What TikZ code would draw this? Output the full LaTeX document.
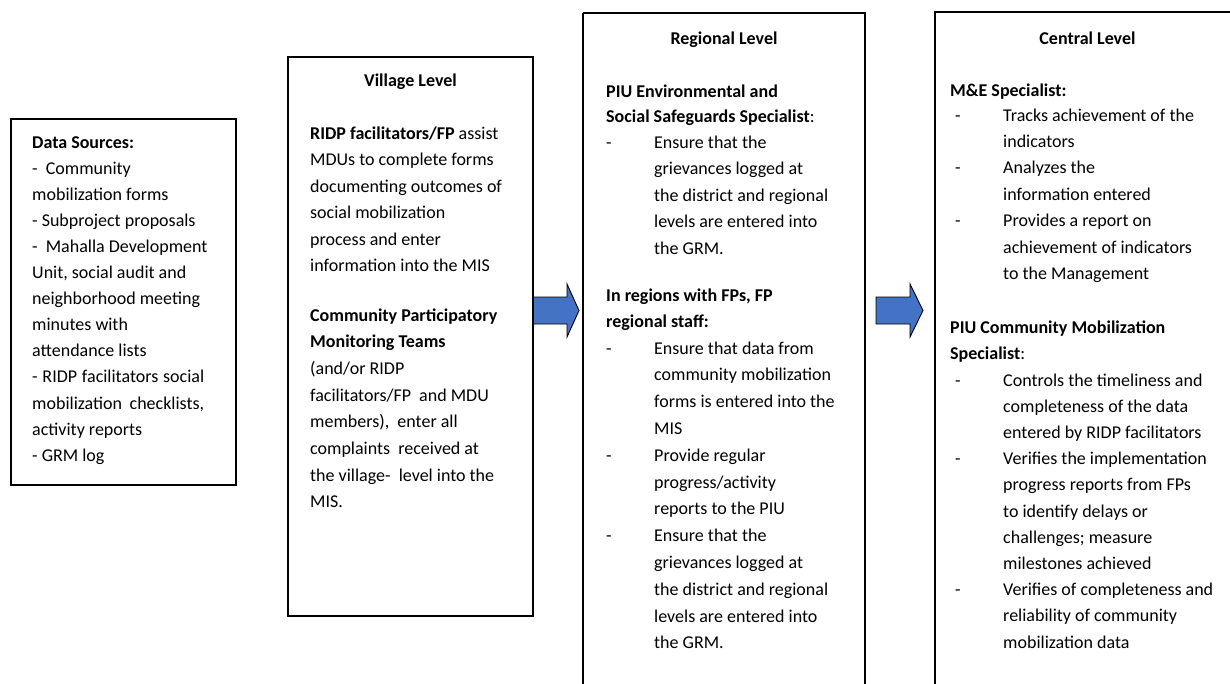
\documentclass[tikz,border=0pt]{standalone}
\usepackage{fontspec}
\setmainfont{Carlito}
\definecolor{arrowblue}{HTML}{4472C4}
% one text node per line: name prefix, x, centre y of first line, line pitch, lines
\newcommand\textlines[5]{%
  \foreach \lin [count=\i from 0] in {#5} {%
    \node[txt] (#1-\i) at (#2,{-(#3+\i*#4+6)}) {\lin};
  }%
}
\begin{document}
\begin{tikzpicture}[x=1pt,y=1pt,
  txt/.style={anchor=base west, inner sep=0pt, font=\fontsize{18}{22}\selectfont},
  ttl/.style={anchor=base, inner sep=0pt, font=\fontsize{18}{22}\selectfont\bfseries},
  frame/.style={draw=black, line width=1.4pt},
  blockarrow/.style={draw=black, line width=0.9pt, fill=arrowblue, line join=miter}]
\useasboundingbox (0,0) rectangle (1230,-683);
\clip (0,0) rectangle (1230,-683);

% block arrows between the levels
\draw[blockarrow] (533,-297) -- (567,-297) -- (567,-284) -- (579,-310.5)
  -- (567,-337) -- (567,-324) -- (533,-324) -- cycle;
\draw[blockarrow] (876,-297) -- (910,-297) -- (910,-284) -- (923,-310.5)
  -- (910,-337) -- (910,-324) -- (876,-324) -- cycle;

% frames
\draw[frame] (11,-119) rectangle (236,-485);
\draw[frame] (288,-57) rectangle (533,-616);
\draw[frame] (583,-13) -- (583,-700) (583,-13) -- (865,-13) -- (865,-700);
\draw[frame] (935,-700) -- (935,-12) -- (1240,-12) -- (1240,-700);

% data sources
\textlines{src}{32}{142}{26.1}{{\textbf{Data Sources:}},{-\ \ Community},{mobilization forms},
  {- Subproject proposals},{-\ \ Mahalla Development},{Unit, social audit and},
  {neighborhood meeting},{minutes with},{attendance lists},
  {\makebox[172pt][s]{- RIDP facilitators social}},{\makebox[172pt][s]{mobilization checklists,}},
  {activity reports},{- GRM log}}

% village level
\node[ttl] (vtitle) at (410.5,-86) {Village Level};
\textlines{vA}{310}{133}{26.5}{{\textbf{RIDP facilitators/FP} assist},{MDUs to complete forms},
  {documenting outcomes of},{social mobilization},{process and enter},{information into the MIS}}
\textlines{vB}{310}{315}{26.7}{{\textbf{Community Participatory}},{\textbf{Monitoring Teams}},
  {(and/or RIDP},{facilitators/FP\ \ and MDU},{members),\ \ enter all},
  {complaints\ \ received at},{the village-\ \ level into the},{MIS.}}

% regional level
\node[ttl] (rtitle) at (724,-44) {Regional Level};
\textlines{rH1}{606}{91}{25.5}{{\textbf{PIU Environmental and}},{\textbf{Social Safeguards Specialist}:}}
\textlines{rD1}{606}{142}{26.5}{{-}}
\textlines{rA}{654}{142}{26.5}{{Ensure that the},{grievances logged at},
  {the district and regional},{levels are entered into},{the GRM.}}
\textlines{rH2}{606}{295}{26}{{\textbf{In regions with FPs, FP}},{\textbf{regional staff:}}}
\textlines{rD2}{606}{348}{26.8}{{-},{},{},{},{-},{},{},{-}}
\textlines{rB}{654}{348}{26.8}{{Ensure that data from},{community mobilization},
  {forms is entered into the},{MIS},{Provide regular},{progress/activity},
  {reports to the PIU},{Ensure that the},{grievances logged at},
  {the district and regional},{levels are entered into},{the GRM.}}

% central level
\node[ttl] (ctitle) at (1087.5,-44) {Central Level};
\textlines{cH1}{950}{90}{26}{{\textbf{M\&E Specialist:}}}
\textlines{cD1}{955}{115}{26.4}{{-},{},{-},{},{-}}
\textlines{cA}{1003}{115}{26.4}{{Tracks achievement of the},{indicators},{Analyzes the},
  {information entered},{Provides a report on},{achievement of indicators},{to the Management}}
\textlines{cH2}{950}{327}{26}{{\textbf{PIU Community Mobilization}},{\textbf{Specialist}:}}
\textlines{cD2}{955}{380}{26.2}{{-},{},{},{-},{},{},{},{},{-}}
\textlines{cB}{1003}{380}{26.2}{{Controls the timeliness and},{completeness of the data},
  {entered by RIDP facilitators},{Verifies the implementation},{progress reports from FPs},
  {to identify delays or},{challenges; measure},{milestones achieved},
  {Verifies of completeness and},{reliability of community},{mobilization data}}
\end{tikzpicture}
\end{document}
